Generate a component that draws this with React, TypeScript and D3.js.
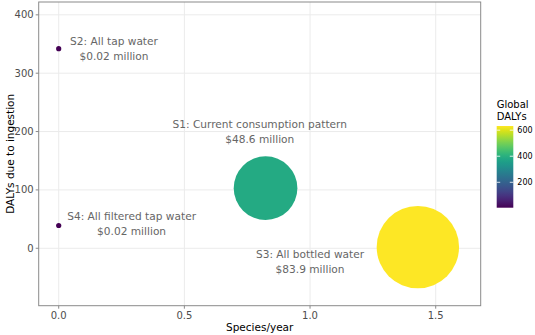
import React from "react";
import * as d3 from "d3";

const scenarios = ["S1: Current consumption pattern", "S2: All tap water", "S3: All bottled water", "S4: All filtered tap water"];
const costLabels = ["$48.6 million", "$0.02 million", "$83.9 million", "$0.02 million"];
const speciesPerYear = [0.823, 0.0, 1.429, 0.0];
const dalysIngestion = [103, 342, 2, 39];
const costMillion = [48.6, 0.02, 83.9, 0.02];
const globalDalys = [385, 6, 632, 5];
const xTicks = [0, 0.5, 1.0, 1.5];
const yTicks = [0, 100, 200, 300, 400];
const legendTicks = [200, 400, 600];
// label anchor positions in data units (center of two-line text block)
const labelX = [0.80, 0.22, 1.0, 0.29];
const labelY = [199.5, 341, -23, 42];

const W = 535, H = 335;
const P = { left: 38.7, right: 480.7, top: 2, bottom: 305.7 };

export default function App() {
  const x = d3.scaleLinear().domain([-0.0796, 1.679]).range([P.left, P.right]);
  const y = d3.scaleLinear().domain([-98.4, 422]).range([P.bottom, P.top]);
  const r = d3.scaleSqrt().domain([d3.min(costMillion)!, d3.max(costMillion)!]).range([2.6, 41.2]);
  const cmin = d3.min(globalDalys)!, cmax = d3.max(globalDalys)!;
  const color = d3.scaleSequential(d3.interpolateViridis).domain([cmin, cmax]);

  const barTop = 126, barBot = 207.7, barX = 496.7, barW = 16.6;
  const ly = d3.scaleLinear().domain([cmin, cmax]).range([barBot, barTop]);
  const stops = d3.range(0, 1.0001, 0.05);

  const order = d3.range(scenarios.length).sort((a, b) => costMillion[b] - costMillion[a]);
  const font = "DejaVu Sans, sans-serif";

  return (
    <svg width={W} height={H} style={{ position: "absolute", left: 0, top: 0 }} fontFamily={font}>
      <rect x={0} y={0} width={W} height={H} fill="#fff" />
      <defs>
        <linearGradient id="vir" x1="0" y1="1" x2="0" y2="0">
          {stops.map((t) => (
            <stop key={t} offset={t} stopColor={d3.interpolateViridis(t)} />
          ))}
        </linearGradient>
      </defs>
      {xTicks.map((t) => (
        <line key={"gx" + t} x1={x(t)} x2={x(t)} y1={P.top} y2={P.bottom} stroke="#ebebeb" strokeWidth={1} />
      ))}
      {yTicks.map((t) => (
        <line key={"gy" + t} x1={P.left} x2={P.right} y1={y(t)} y2={y(t)} stroke="#ebebeb" strokeWidth={1} />
      ))}
      {order.map((i) => (
        <circle key={"c" + i} cx={x(speciesPerYear[i])} cy={y(dalysIngestion[i])} r={r(costMillion[i])} fill={color(globalDalys[i])} />
      ))}
      {scenarios.map((s, i) => (
        <text key={"l" + i} x={x(labelX[i])} y={y(labelY[i])} textAnchor="middle" fontSize={10.6} fill="#666">
          <tspan x={x(labelX[i])} dy={-3.8}>{s}</tspan>
          <tspan x={x(labelX[i])} dy={15}>{costLabels[i]}</tspan>
        </text>
      ))}
      <rect x={P.left} y={P.top} width={P.right - P.left} height={P.bottom - P.top} fill="none" stroke="#8a8a8a" strokeWidth={1} />
      {yTicks.map((t) => (
        <g key={"yt" + t}>
          <line x1={P.left - 3} x2={P.left} y1={y(t)} y2={y(t)} stroke="#8a8a8a" />
          <text x={P.left - 5} y={y(t)} dy="0.35em" textAnchor="end" fontSize={10} fill="#4d4d4d">{t}</text>
        </g>
      ))}
      {xTicks.map((t) => (
        <g key={"xt" + t}>
          <line x1={x(t)} x2={x(t)} y1={P.bottom} y2={P.bottom + 3} stroke="#8a8a8a" />
          <text x={x(t)} y={P.bottom + 13} textAnchor="middle" fontSize={10} fill="#4d4d4d">{t.toFixed(1)}</text>
        </g>
      ))}
      <text x={(P.left + P.right) / 2} y={331} textAnchor="middle" fontSize={10.5} fill="#000">Species/year</text>
      <text transform={`translate(13.5,${(P.top + P.bottom) / 2}) rotate(-90)`} textAnchor="middle" fontSize={10.5} fill="#000">DALYs due to ingestion</text>
      <text x={barX} y={107.5} fontSize={10} fill="#000">Global</text>
      <text x={barX} y={119.5} fontSize={10} fill="#000">DALYs</text>
      <rect x={barX} y={barTop} width={barW} height={barBot - barTop} fill="url(#vir)" />
      {legendTicks.map((t) => (
        <g key={"lt" + t}>
          <line x1={barX} x2={barX + 3.5} y1={ly(t)} y2={ly(t)} stroke="#fff" strokeWidth={0.8} />
          <line x1={barX + barW - 3.5} x2={barX + barW} y1={ly(t)} y2={ly(t)} stroke="#fff" strokeWidth={0.8} />
          <text x={barX + barW + 4} y={ly(t)} dy="0.35em" fontSize={8} fill="#000">{t}</text>
        </g>
      ))}
    </svg>
  );
}
